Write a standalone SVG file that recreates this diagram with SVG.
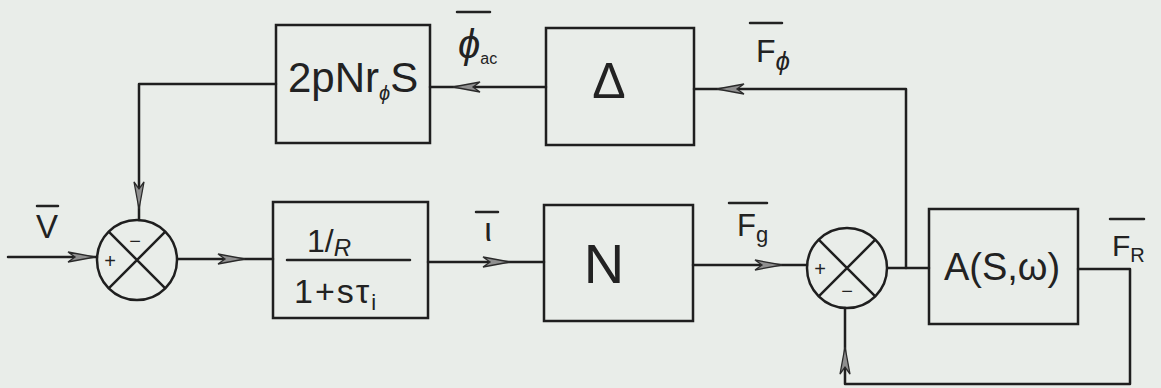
<svg xmlns="http://www.w3.org/2000/svg" xmlns:xlink="http://www.w3.org/1999/xlink" width="1161" height="388" viewBox="0 0 1161 388">
<style>
.bg{fill:#e9ede9}
.ln{fill:none;stroke:#1f1f1f;stroke-width:2.5;stroke-linejoin:round;stroke-linecap:round}
.box{fill:none;stroke:#1f1f1f;stroke-width:2.5}
.sj{fill:none;stroke:#1f1f1f;stroke-width:2.5}
.ah{fill:#8f8f8f;stroke:#2a2a2a;stroke-width:1.3}
.t{font-family:"Liberation Sans",Arial,sans-serif;fill:#222}
.bar{stroke:#222;stroke-width:2.5;stroke-linecap:round}
.sg{font-family:"Liberation Sans",Arial,sans-serif;fill:#222;font-size:20px;text-anchor:middle}
</style>
<defs>
<path id="ah" d="M-27,-5 L0,0 L-27,5 L-20,0 Z"/>
<g id="sum">
<circle r="40" class="sj"/>
<path d="M-28.3,-28.3 L28.3,28.3 M28.3,-28.3 L-28.3,28.3" class="sj"/>
</g>
</defs>
<rect class="bg" x="0" y="0" width="1161" height="388"/>

<g id="connectors">
<path class="ln" d="M8 257 H97"/>
<path class="ln" d="M178 259 H273"/>
<path class="ln" d="M428 262 H544"/>
<path class="ln" d="M693 265 H807"/>
<path class="ln" d="M888 268 H929"/>
<path class="ln" d="M906 268 V89 H694"/>
<path class="ln" d="M546 87 H430"/>
<path class="ln" d="M276 84 H139 V220"/>
<path class="ln" d="M1078 269 H1130 V384 H845 V308"/>
<use xlink:href="#ah" class="ah" transform="translate(95,257)"/>
<use xlink:href="#ah" class="ah" transform="translate(245,259)"/>
<use xlink:href="#ah" class="ah" transform="translate(510,262)"/>
<use xlink:href="#ah" class="ah" transform="translate(782,265)"/>
<use xlink:href="#ah" class="ah" transform="translate(717,89) rotate(180)"/>
<use xlink:href="#ah" class="ah" transform="translate(453,87) rotate(180)"/>
<use xlink:href="#ah" class="ah" transform="translate(139,209) rotate(90)"/>
<use xlink:href="#ah" class="ah" transform="translate(845,347) rotate(-90)"/>
</g>

<g id="labels">
<line class="bar" x1="37" y1="206" x2="58" y2="206"/>
<text class="t" x="47" y="238" font-size="33" text-anchor="middle">V</text>
<line class="bar" x1="476" y1="212" x2="498" y2="212"/>
<text class="t" x="488" y="241" font-size="34" text-anchor="middle">ι</text>
<line class="bar" x1="729" y1="203" x2="767" y2="203"/>
<text class="t" x="737" y="236" font-size="31">F<tspan font-size="22" dy="6">g</tspan></text>
<line class="bar" x1="1110" y1="219" x2="1144" y2="219"/>
<text class="t" x="1112" y="256" font-size="30">F<tspan font-size="20" dy="6">R</tspan></text>
<line class="bar" x1="750" y1="23" x2="782" y2="23"/>
<text class="t" x="756" y="62" font-size="32">F<tspan font-size="26" font-style="italic" dy="8">ϕ</tspan></text>
<line class="bar" x1="457" y1="12" x2="490" y2="12"/>
<text class="t" x="458" y="58" font-size="40" font-style="italic">ϕ<tspan font-size="16" font-style="normal" dy="6">ac</tspan></text>
</g>

<g id="sum1">
<use xlink:href="#sum" transform="translate(137,260)"/>
<text class="sg" x="110" y="268">+</text>
<text class="sg" x="135" y="248">−</text>
</g>

<g id="sum2">
<use xlink:href="#sum" transform="translate(847,268)"/>
<text class="sg" x="820" y="276">+</text>
<text class="sg" x="847" y="298">−</text>
</g>

<g id="box-2pNrs">
<rect class="box" x="276" y="25" width="154" height="118"/>
<text class="t" x="288" y="92" font-size="42">2pNr<tspan font-size="20" font-style="italic" dy="8">ϕ</tspan><tspan dy="-8">S</tspan></text>
</g>

<g id="box-delta">
<rect class="box" x="546" y="28" width="148" height="117"/>
<text class="t" x="609" y="98" font-size="50" text-anchor="middle">Δ</text>
</g>

<g id="box-1R">
<rect class="box" x="273" y="202" width="155" height="116"/>
<line class="bar" x1="287" y1="260" x2="410" y2="260"/>
<text class="t" x="307" y="252" font-size="32">1/<tspan font-size="24" font-style="italic" dy="4">R</tspan></text>
<text class="t" x="294" y="303" font-size="34" letter-spacing="2">1+sτ<tspan font-size="22" dy="7">i</tspan></text>
</g>

<g id="box-N">
<rect class="box" x="544" y="205" width="149" height="116"/>
<text class="t" x="604" y="283" font-size="56" text-anchor="middle">N</text>
</g>

<g id="box-A">
<rect class="box" x="929" y="209" width="149" height="115"/>
<text class="t" x="1002" y="280" font-size="38" text-anchor="middle">A(S,ω)</text>
</g>
</svg>
